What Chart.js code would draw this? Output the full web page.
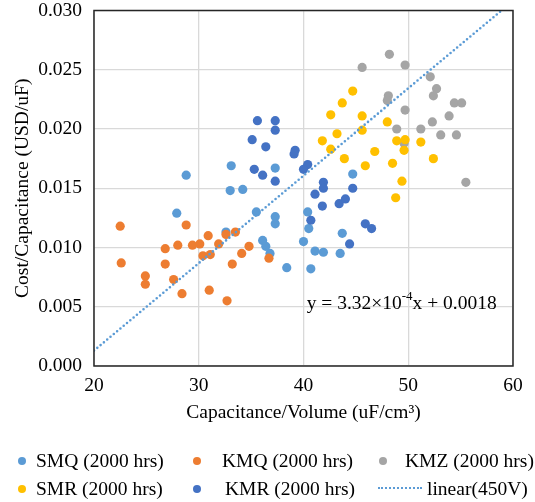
<!DOCTYPE html>
<html>
<head>
<meta charset="utf-8">
<script src="https://cdn.jsdelivr.net/npm/chart.js@4"></script>
<style>
  body { margin: 0; background: #fff; }
  #wrap { position: relative; width: 535px; height: 502px; }
  .lg { position: absolute; font: 19.5px "Liberation Serif", serif; color: #000; white-space: nowrap; line-height: 20px; }
  .dot { position: absolute; width: 8px; height: 8px; border-radius: 50%; }
  .dash { position: absolute; width: 44px; height: 0; border-top: 2.5px dotted #5B9BD5; }
</style>
</head>
<body>
<div id="wrap">
  <canvas id="chart" width="535" height="502"></canvas>
</div>
<script>
// Cost per capacitance vs capacitance density, 450V parts
const smqX = [28.8, 33.1, 33.0, 34.2, 35.5, 27.9, 32.6, 37.3, 37.3, 37.3, 36.1, 36.4, 36.8, 38.4, 40.4, 40.5, 40.0, 41.1, 41.9, 40.7, 43.5, 43.7, 44.7];
const smqY = [0.0161, 0.0169, 0.0148, 0.0149, 0.0130, 0.0129, 0.0113, 0.0167, 0.0126, 0.0120, 0.0106, 0.0101, 0.0095, 0.0083, 0.0130, 0.0116, 0.0105, 0.0097, 0.0096, 0.0082, 0.0095, 0.0112, 0.0162];

const kmqX = [22.5, 22.6, 24.9, 24.9, 26.8, 26.8, 27.6, 28.0, 28.4, 28.8, 29.4, 30.1, 30.4, 31.1, 30.9, 31.9, 31.0, 32.7, 32.6, 33.2, 33.5, 34.1, 34.8, 36.7];
const kmqY = [0.0118, 0.0087, 0.0076, 0.0069, 0.0099, 0.0086, 0.0073, 0.0102, 0.0061, 0.0119, 0.0102, 0.0103, 0.0093, 0.0094, 0.0110, 0.0103, 0.0064, 0.0055, 0.0111, 0.0086, 0.0113, 0.0095, 0.0101, 0.0091];

const kmzX = [45.6, 48.2, 49.7, 52.1, 52.7, 52.4, 48.1, 48.0, 54.4, 55.1, 49.7, 53.9, 52.3, 48.9, 51.2, 53.1, 54.6, 49.6, 55.5];
const kmzY = [0.0252, 0.0263, 0.0254, 0.0244, 0.0234, 0.0228, 0.0228, 0.0224, 0.0222, 0.0222, 0.0216, 0.0211, 0.0206, 0.0200, 0.0200, 0.0195, 0.0195, 0.0188, 0.0155];

const smrX = [44.7, 43.7, 42.6, 45.6, 43.2, 45.6, 41.8, 42.6, 43.9, 45.9, 46.8, 48.0, 48.5, 48.9, 49.7, 49.6, 51.2, 52.4, 49.4, 48.8];
const smrY = [0.0232, 0.0222, 0.0212, 0.0211, 0.0196, 0.0199, 0.0190, 0.0183, 0.0175, 0.0169, 0.0181, 0.0206, 0.0171, 0.0190, 0.0191, 0.0182, 0.0189, 0.0175, 0.0156, 0.0142];

const kmrX = [35.6, 37.3, 37.3, 35.1, 36.4, 39.2, 39.1, 35.3, 36.1, 37.3, 40.4, 40.0, 41.9, 41.9, 41.1, 44.7, 41.8, 43.4, 44.0, 40.7, 45.9, 46.5, 44.4];
const kmrY = [0.0207, 0.0207, 0.0199, 0.0191, 0.0185, 0.0182, 0.0179, 0.0166, 0.0161, 0.0156, 0.0170, 0.0166, 0.0155, 0.0150, 0.0145, 0.0150, 0.0135, 0.0137, 0.0141, 0.0123, 0.0120, 0.0116, 0.0103];

// trend line end points
const trendX = [20, 58.9];
const trendY = [0.0013, 0.0300];

const seriesNames = ['SMQ (2000 hrs)', 'KMQ (2000 hrs)', 'KMZ (2000 hrs)', 'SMR (2000 hrs)', 'KMR (2000 hrs)'];
const trendName = 'linear(450V)';
const eqText = ['y = 3.32\u00d710', '-4', 'x + 0.0018'];

const xRange = [20, 60];
const yRange = [0, 0.03];

const colors = ['#5B9BD5', '#ED7D31', '#A5A5A5', '#FFC000', '#4472C4'];
const FONT = '"Liberation Serif", serif';

const toPts = (xs, ys) => xs.map((x, i) => ({ x: x, y: ys[i] }));
const seriesData = [toPts(smqX, smqY), toPts(kmqX, kmqY), toPts(kmzX, kmzY), toPts(smrX, smrY), toPts(kmrX, kmrY)];

const datasets = seriesData.map((pts, i) => ({
    label: seriesNames[i],
    data: pts,
    backgroundColor: colors[i],
    borderWidth: 0,
    pointRadius: 4.6,
    order: 10 - i
}));
datasets.push({
    label: trendName,
    data: toPts(trendX, trendY),
    showLine: true,
    pointRadius: 0,
    borderColor: '#5B9BD5',
    borderWidth: 2.6,
    borderDash: [0, 4.3],
    borderCapStyle: 'round',
    order: 0
});

// frame around the plot + regression equation
const framePlugin = {
    id: 'frame',
    afterDatasetsDraw(chart) {
        const { ctx, chartArea: a, scales } = chart;
        ctx.save();
        ctx.strokeStyle = '#262626';
        ctx.lineWidth = 1.5;
        ctx.strokeRect(a.left, a.top, a.right - a.left, a.bottom - a.top);

        let px = scales.x.getPixelForValue(40.3);
        const py = scales.y.getPixelForValue(0.0048);
        ctx.fillStyle = '#000';
        ctx.textBaseline = 'alphabetic';
        ctx.textAlign = 'left';
        ctx.font = '19.5px ' + FONT;
        ctx.fillText(eqText[0], px, py);
        px += ctx.measureText(eqText[0]).width;
        ctx.font = '13px ' + FONT;
        ctx.fillText(eqText[1], px, py - 9);
        px += ctx.measureText(eqText[1]).width;
        ctx.font = '19.5px ' + FONT;
        ctx.fillText(eqText[2], px, py);
        ctx.restore();
    }
};

const tickFont = { family: FONT, size: 19.5, lineHeight: 1.1 };

new Chart(document.getElementById('chart'), {
    type: 'scatter',
    data: { datasets: datasets },
    options: {
        responsive: false,
        animation: false,
        layout: { padding: { top: 10.5, right: 22, bottom: 76, left: 0 } },
        scales: {
            x: {
                min: xRange[0], max: xRange[1],
                ticks: { stepSize: 10, color: '#000', font: tickFont, padding: 9 },
                grid: { color: '#d9d9d9', lineWidth: 1.3, drawTicks: false },
                border: { display: false },
                title: { display: true, text: 'Capacitance/Volume (uF/cm\u00b3)', color: '#000', font: tickFont, padding: { top: 0, bottom: 2 } },
                afterFit: (s) => { s.height = 60; }
            },
            y: {
                min: yRange[0], max: yRange[1],
                ticks: { stepSize: 0.005, color: '#000', font: tickFont, padding: 12, callback: (v) => v.toFixed(3) },
                grid: { color: '#d9d9d9', lineWidth: 1.3, drawTicks: false },
                border: { display: false },
                title: { display: true, text: 'Cost/Capacitance (USD/uF)', color: '#000', font: tickFont, padding: { top: 12, bottom: 0 } },
                afterFit: (s) => { s.width = 94; s.paddingTop = 0; s.paddingBottom = 0; }
            }
        },
        plugins: {
            legend: { display: false },
            tooltip: { enabled: false }
        }
    },
    plugins: [framePlugin]
});

// legend below the chart, three columns
const wrap = document.getElementById('wrap');
const legendSlots = [
    { mx: 22, tx: 36, y: 461 },
    { mx: 197, tx: 222, y: 461 },
    { mx: 383, tx: 405, y: 461 },
    { mx: 22, tx: 36, y: 489 },
    { mx: 197, tx: 225, y: 489 }
];
seriesNames.forEach((name, i) => {
    const s = legendSlots[i];
    const dot = document.createElement('div');
    dot.className = 'dot';
    dot.style.background = colors[i];
    dot.style.left = (s.mx - 4) + 'px';
    dot.style.top = (s.y - 4) + 'px';
    wrap.appendChild(dot);
    const t = document.createElement('div');
    t.className = 'lg';
    t.textContent = name;
    t.style.left = s.tx + 'px';
    t.style.top = (s.y - 10) + 'px';
    wrap.appendChild(t);
});
const dash = document.createElement('div');
dash.className = 'dash';
dash.style.left = '378px';
dash.style.top = '487px';
wrap.appendChild(dash);
const lt = document.createElement('div');
lt.className = 'lg';
lt.textContent = trendName;
lt.style.left = '427px';
lt.style.top = '479px';
wrap.appendChild(lt);
</script>
</body>
</html>
